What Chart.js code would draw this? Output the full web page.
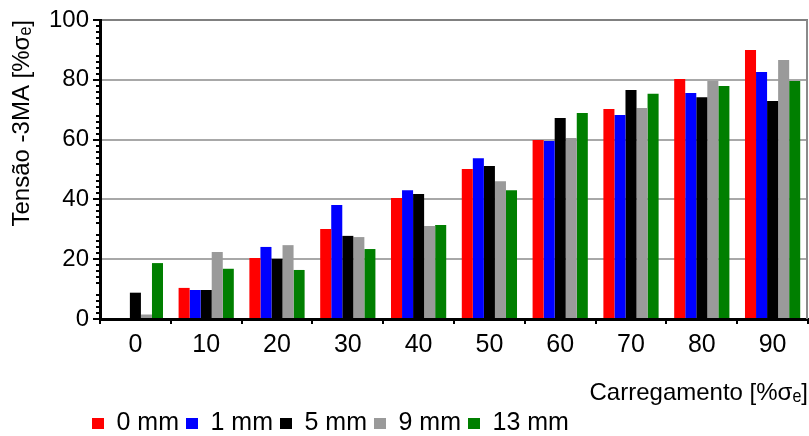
<!DOCTYPE html>
<html>
<head>
<meta charset="utf-8">
<script src="https://cdn.jsdelivr.net/npm/chart.js@4.4.1/dist/chart.umd.min.js"></script>
<style>
  html, body { margin: 0; padding: 0; background: #fff; }
  #wrap { width: 809px; height: 436px; position: relative; }
</style>
</head>
<body>
<div id="wrap"><canvas id="chart"></canvas></div>
<script>
// Carregamento [%σe] categories
const loads = ['0', '10', '20', '30', '40', '50', '60', '70', '80', '90'];

// Tensão -3MA per crack depth
const depth0 = [0, 10.4, 20.4, 30.1, 40.5, 50.2, 59.9, 70.2, 80.3, 90.0];
const depth1 = [0, 9.7, 24.1, 38.1, 43.1, 53.8, 59.5, 68.2, 75.6, 82.6];
const depth5 = [8.8, 9.7, 20.1, 27.8, 41.8, 51.2, 67.2, 76.6, 74.2, 72.9];
const depth9 = [1.5, 22.4, 24.7, 27.4, 31.1, 46.1, 60.5, 70.6, 79.6, 86.6];
const depth13 = [18.7, 16.8, 16.4, 23.4, 31.4, 43.1, 68.9, 75.3, 77.9, 79.6];

const seriesNames = ['0 mm', '1 mm', '5 mm', '9 mm', '13 mm'];
const seriesColors = ['#ff0000', '#0000ff', '#000000', '#9a9a9a', '#007f00'];

const FONT = '"Liberation Sans", Arial, sans-serif';

// minor ticks on the y axis, right border, legend offset
const extras = {
    id: 'extras',
    afterLayout(chart) {
        const lg = chart.legend;
        if (lg) {
            lg.left += 85;
            lg.right += 85;
            lg.top += 10;
            lg.bottom += 10;
        }
    },
    afterDraw(chart) {
        const ctx = chart.ctx;
        const area = chart.chartArea;
        const y = chart.scales.y;
        ctx.save();
        ctx.strokeStyle = '#000';
        ctx.lineWidth = 2;
        for (let v = 2; v < 100; v += 2) {
            if (v % 10 === 0) continue;
            const py = Math.round(y.getPixelForValue(v));
            ctx.beginPath();
            ctx.moveTo(area.left - 4, py);
            ctx.lineTo(area.left, py);
            ctx.stroke();
        }
        ctx.strokeStyle = '#8a8a8a';
        ctx.lineWidth = 2;
        ctx.beginPath();
        ctx.moveTo(area.right - 1, area.top);
        ctx.lineTo(area.right - 1, area.bottom);
        ctx.stroke();
        ctx.restore();
    }
};

const datasets = [depth0, depth1, depth5, depth9, depth13].map((d, i) => ({
    label: seriesNames[i],
    data: d,
    backgroundColor: seriesColors[i],
    borderWidth: 0,
    barPercentage: 1.0,
    categoryPercentage: 0.78
}));

new Chart(document.getElementById('chart'), {
    type: 'bar',
    data: { labels: loads, datasets },
    plugins: [extras],
    options: {
        responsive: true,
        maintainAspectRatio: false,
        animation: false,
        layout: { padding: { top: 20, right: 1, left: 0, bottom: 0 } },
        plugins: {
            tooltip: { enabled: false },
            legend: {
                position: 'bottom',
                align: 'start',
                labels: {
                    boxWidth: 12,
                    boxHeight: 11,
                    padding: 7,
                    color: '#000',
                    font: { family: FONT, size: 25 }
                }
            }
        },
        scales: {
            x: {
                grid: {
                    drawOnChartArea: false,
                    drawTicks: true,
                    tickLength: 5,
                    color: '#000',
                    lineWidth: 2
                },
                border: { color: '#000', width: 3 },
                ticks: {
                    color: '#000',
                    padding: 6,
                    font: { family: FONT, size: 25 }
                },
                title: {
                    display: true,
                    text: 'Carregamento [%σₑ]',
                    align: 'end',
                    color: '#000',
                    padding: { top: 12.6, bottom: -13.4 },
                    font: { family: FONT, size: 24 }
                }
            },
            y: {
                min: 0,
                max: 100,
                afterFit(scale) { scale.width = 100; },
                grid: {
                    color: ctx => ctx.tick && ctx.tick.value === 100 ? '#808080' : '#a8a8a8',
                    lineWidth: 2,
                    tickLength: 7,
                    tickColor: '#000'
                },
                border: { color: '#000', width: 3 },
                ticks: {
                    stepSize: 10,
                    color: '#000',
                    padding: 4,
                    font: { family: FONT, size: 24 },
                    callback: v => (v % 20 === 0 ? v : '')
                },
                title: {
                    display: true,
                    text: 'Tensão -3MA [%σₑ]',
                    align: 'end',
                    color: '#000',
                    padding: { top: 8, bottom: 0 },
                    font: { family: FONT, size: 24 }
                }
            }
        }
    }
});
</script>
</body>
</html>
